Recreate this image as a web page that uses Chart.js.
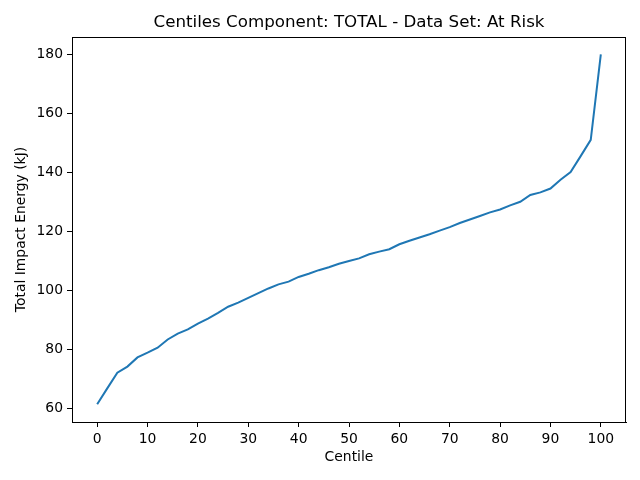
<!DOCTYPE html>
<html>
<head>
<meta charset="utf-8">
<script src="https://cdn.jsdelivr.net/npm/chart.js@4"></script>
<style>
html,body{margin:0;padding:0;background:#fff;}
canvas{display:block;}
</style>
</head>
<body>
<canvas id="c" width="640" height="480"></canvas>
<script>
const centiles = [0,2,4,6,8,10,12,14,16,18,20,22,24,26,28,30,32,34,36,38,40,42,44,46,48,50,52,54,56,58,60,62,64,66,68,70,72,74,76,78,80,82,84,86,88,90,92,94,96,98,100];
const energy = [61.3,66.7,72.0,74.1,77.2,78.8,80.5,83.3,85.3,86.7,88.7,90.4,92.3,94.4,95.8,97.4,99.0,100.6,102.0,102.9,104.5,105.6,106.8,107.8,109.0,109.9,110.8,112.2,113.1,113.9,115.6,116.8,117.9,119.0,120.2,121.4,122.8,124.0,125.2,126.4,127.4,128.8,130.0,132.3,133.2,134.5,137.5,140.1,145.5,151.0,180.0];
const xTicks = [0,10,20,30,40,50,60,70,80,90,100];
const yTicks = [60,80,100,120,140,160,180];
const titleText = 'Centiles Component: TOTAL - Data Set: At Risk';
const xLabel = 'Centile';
const yLabel = 'Total Impact Energy (kJ)';

const FONT = 'DejaVu Sans';

const decor = {
  id: 'decor',
  afterDraw(chart) {
    const ctx = chart.ctx;
    const a = chart.chartArea;
    ctx.save();
    ctx.strokeStyle = '#000';
    ctx.lineWidth = 1;
    ctx.beginPath();
    ctx.moveTo(a.left, a.top + 0.5);
    ctx.lineTo(a.right, a.top + 0.5);
    ctx.moveTo(a.right - 0.5, a.top);
    ctx.lineTo(a.right - 0.5, a.bottom);
    ctx.stroke();
    ctx.fillStyle = '#000';
    ctx.textAlign = 'center';
    ctx.textBaseline = 'middle';
    const cx = (a.left + a.right) / 2;
    ctx.font = '16.7px "' + FONT + '"';
    ctx.fillText(titleText, cx, 23);
    ctx.font = '13.9px "' + FONT + '"';
    ctx.fillText(xLabel, cx, 457);
    ctx.translate(21, (a.top + a.bottom) / 2);
    ctx.rotate(-Math.PI / 2);
    ctx.fillText(yLabel, 0, 0);
    ctx.restore();
  }
};

function axisCommon() {
  return {
    grid: { display: true, drawOnChartArea: false, drawTicks: true, tickLength: 5, tickColor: '#000', tickWidth: 1 },
    border: { display: true, color: '#000', width: 1 },
    ticks: { color: '#000', font: { family: FONT, size: 13.9 }, padding: 4, autoSkip: false, maxRotation: 0 }
  };
}

const xAxis = axisCommon();
xAxis.type = 'linear';
xAxis.min = -5;
xAxis.max = 105;
xAxis.afterBuildTicks = s => { s.ticks = xTicks.map(v => ({ value: v })); };
xAxis.afterFit = s => { s.height = 58; };

const yAxis = axisCommon();
yAxis.type = 'linear';
yAxis.min = 55.3;
yAxis.max = 185.9;
yAxis.afterBuildTicks = s => { s.ticks = yTicks.map(v => ({ value: v })); };
yAxis.afterFit = s => { s.width = 72; };

new Chart(document.getElementById('c'), {
  type: 'line',
  data: {
    datasets: [{
      data: centiles.map((c, i) => ({ x: c, y: energy[i] })),
      borderColor: '#1f77b4',
      borderWidth: 2,
      pointRadius: 0,
      tension: 0,
      fill: false
    }]
  },
  options: {
    responsive: false,
    animation: false,
    devicePixelRatio: 1,
    layout: { padding: { top: 37, right: 14, left: 0, bottom: 0 } },
    plugins: { legend: { display: false }, title: { display: false }, tooltip: { enabled: false } },
    scales: { x: xAxis, y: yAxis }
  },
  plugins: [decor]
});
</script>
</body>
</html>
